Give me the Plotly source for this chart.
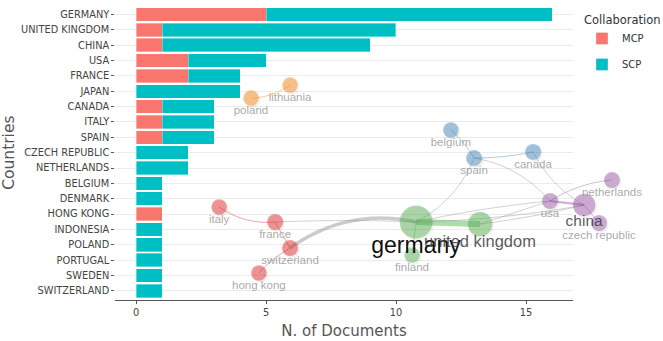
import plotly.graph_objects as go
import math

# ---------------- bar data ----------------
countries = ["GERMANY", "UNITED KINGDOM", "CHINA", "USA", "FRANCE", "JAPAN", "CANADA",
             "ITALY", "SPAIN", "CZECH REPUBLIC", "NETHERLANDS", "BELGIUM", "DENMARK",
             "HONG KONG", "INDONESIA", "POLAND", "PORTUGAL", "SWEDEN", "SWITZERLAND"]
mcp = [5, 1, 1, 2, 2, 0, 1, 1, 1, 0, 0, 0, 0, 1, 0, 0, 0, 0, 0]
scp = [11, 9, 8, 3, 2, 4, 2, 2, 2, 2, 2, 1, 1, 0, 1, 1, 1, 1, 1]
x_ticks = [0, 5, 10, 15]

# ---------------- network data (normalised layout coordinates) ----------------
node_names = ["lithuania", "poland", "italy", "france", "switzerland", "hong kong",
              "belgium", "spain", "canada", "netherlands", "usa", "china",
              "czech republic", "germany", "united kingdom", "finland"]
node_x = [-0.125, -0.243, -0.339, -0.170, -0.125, -0.219,
          0.360, 0.430, 0.608, 0.846, 0.659, 0.762,
          0.807, 0.255, 0.448, 0.243]
node_y = [0.501, 0.425, -0.214, -0.302, -0.455, -0.601,
          0.238, 0.073, 0.109, -0.056, -0.179, -0.202,
          -0.308, -0.302, -0.314, -0.496]
node_cluster = [4, 4, 0, 0, 0, 0, 1, 1, 1, 3, 3, 3, 3, 2, 2, 2]
node_deg = [1, 1, 1, 2, 2, 1, 1, 2, 2, 2, 2, 5, 2, 10, 6, 1]

edge_from = ["italy", "france", "switzerland", "hong kong", "france", "poland",
             "belgium", "spain", "spain", "spain", "canada", "germany", "germany",
             "germany", "united kingdom", "united kingdom", "germany", "usa", "usa",
             "china"]
edge_to = ["france", "germany", "germany", "switzerland", "switzerland", "lithuania",
           "spain", "canada", "usa", "germany", "china", "united kingdom", "finland",
           "usa", "usa", "china", "china", "china", "netherlands", "czech republic"]
edge_weight = [1, 1, 3, 1, 1, 1, 1, 1, 1, 1, 1, 5, 1, 1, 1, 1, 1, 2, 1, 1]
edge_curv = [-0.18, 0.02, 0.22, 0.08, 0.0, -0.15, 0.08, -0.05, 0.18, 0.18, -0.15,
             0.0, 0.0, 0.03, 0.0, -0.03, -0.04, 0.0, 0.12, 0.0]

W, H = 663, 341
cluster_rgb = [(228, 26, 28), (55, 126, 184), (77, 175, 74), (152, 78, 163), (255, 127, 0)]

fig = go.Figure()

# ---------------- bars ----------------
fig.add_trace(go.Bar(y=countries, x=mcp, name="MCP", orientation="h",
                     marker=dict(color="#F8766D", line=dict(color="rgba(255,255,255,0.6)", width=0.6)),
                     width=0.88, legendgroup="a", hoverinfo="x+y+name"))
fig.add_trace(go.Bar(y=countries, x=scp, name="SCP", orientation="h",
                     marker=dict(color="#00BFC4", line=dict(color="rgba(255,255,255,0.6)", width=0.6)),
                     width=0.88, legendgroup="b", hoverinfo="x+y+name"))

# ---------------- network ----------------
idx = {n: i for i, n in enumerate(node_names)}
sx, sy = W / 2.0, H / 2.0


def curve(a, b, c, n=30):
    ax, ay = node_x[a] * sx, node_y[a] * sy
    bx, by = node_x[b] * sx, node_y[b] * sy
    mx, my = (ax + bx) / 2, (ay + by) / 2
    dx, dy = bx - ax, by - ay
    cx, cy = mx - c * dy, my + c * dx
    xs, ys = [], []
    for k in range(n + 1):
        t = k / n
        px = (1 - t) ** 2 * ax + 2 * (1 - t) * t * cx + t ** 2 * bx
        py = (1 - t) ** 2 * ay + 2 * (1 - t) * t * cy + t ** 2 * by
        xs.append(px / sx)
        ys.append(py / sy)
    return xs, ys


for f, t, w, c in zip(edge_from, edge_to, edge_weight, edge_curv):
    a, b = idx[f], idx[t]
    xs, ys = curve(a, b, c)
    if node_cluster[a] == node_cluster[b]:
        r, g, bb = cluster_rgb[node_cluster[a]]
        col = f"rgba({r},{g},{bb},0.45)"
    else:
        col = "rgba(140,140,140,0.45)"
    fig.add_trace(go.Scatter(x=xs, y=ys, mode="lines", xaxis="x2", yaxis="y2",
                             line=dict(color=col, width=0.9 + 1.3 * (w - 1) if w > 1 else 0.9,
                                       shape="spline"),
                             hoverinfo="skip", showlegend=False))

sizes = [16 + 2.1 * (d - 2) if d > 2 else (16 if d == 2 else 15.5) for d in node_deg]
node_cols = []
for cl in node_cluster:
    r, g, b = cluster_rgb[cl]
    node_cols.append(f"rgba({r},{g},{b},0.62)")

# soft shadow
fig.add_trace(go.Scatter(x=[v + 1.2 / sx for v in node_x], y=[v - 1.5 / sy for v in node_y],
                         mode="markers", xaxis="x2", yaxis="y2",
                         marker=dict(size=[s + 1 for s in sizes], color="rgba(90,90,90,0.12)",
                                     line=dict(width=0)),
                         hoverinfo="skip", showlegend=False))
fig.add_trace(go.Scatter(x=node_x, y=node_y, mode="markers", xaxis="x2", yaxis="y2",
                         marker=dict(size=sizes, color=node_cols, line=dict(width=0)),
                         text=node_names, hoverinfo="text", showlegend=False))

# labels
for i, name in enumerate(node_names):
    if name == "germany":
        fs, col = 23, "rgba(0,0,0,0.95)"
    elif name == "united kingdom":
        fs, col = 16.5, "rgba(60,60,60,0.85)"
    elif name == "china":
        fs, col = 15.5, "rgba(60,60,60,0.85)"
    else:
        fs, col = 11.5, "rgba(140,140,140,0.75)"
    off = sizes[i] / 2 * 0.4 + fs * 0.72 + 2
    fig.add_trace(go.Scatter(x=[node_x[i]], y=[node_y[i] - off / sy], mode="text",
                             xaxis="x2", yaxis="y2", text=[name],
                             textfont=dict(family="Liberation Sans, Arial", size=fs, color=col),
                             hoverinfo="skip", showlegend=False, cliponaxis=False))

x0p, x1p = 115.2, 572.8
y0p, y1p = 5.3, 300.0
tick_font = dict(family="DejaVu Sans", size=9.8, color="#444444")
fig.update_layout(
    width=W, height=H,
    margin=dict(l=0, r=0, t=0, b=0),
    paper_bgcolor="white", plot_bgcolor="rgba(0,0,0,0)",
    barmode="stack", bargap=0.1,
    showlegend=True,
    legend=dict(title=dict(text="Collaboration", font=dict(family="DejaVu Sans", size=11.5, color="#333")),
                x=582 / W, y=1 - 9 / H, xanchor="left", yanchor="top",
                font=dict(family="DejaVu Sans", size=10, color="#333"),
                traceorder="grouped", tracegroupgap=7, bgcolor="rgba(0,0,0,0)"),
    xaxis=dict(domain=[x0p / W, x1p / W], range=[-0.8, 16.8], tickvals=x_ticks,
               showgrid=False, zeroline=False, showline=True, linecolor="#555", linewidth=1,
               ticks="outside", ticklen=3, tickcolor="#555", tickfont=tick_font,
               title=dict(text="N. of Documents", font=dict(family="DejaVu Sans", size=15, color="#555"),
                          standoff=8),
               anchor="y"),
    yaxis=dict(domain=[1 - y1p / H, 1 - y0p / H], type="category", categoryarray=countries,
               range=[len(countries) - 0.4, -0.6], showgrid=True, gridcolor="#EBEBEB", gridwidth=1,
               zeroline=False, showline=False, ticks="outside", ticklen=3, tickcolor="#555",
               tickfont=tick_font,
               title=dict(text="Countries", font=dict(family="DejaVu Sans", size=15.5, color="#555"),
                          standoff=4),
               anchor="x"),
    xaxis2=dict(domain=[0, 1], range=[-1, 1], visible=False, anchor="y2", fixedrange=True),
    yaxis2=dict(domain=[0, 1], range=[-1, 1], visible=False, anchor="x2", fixedrange=True),
)

fig.write_html("out.html")
